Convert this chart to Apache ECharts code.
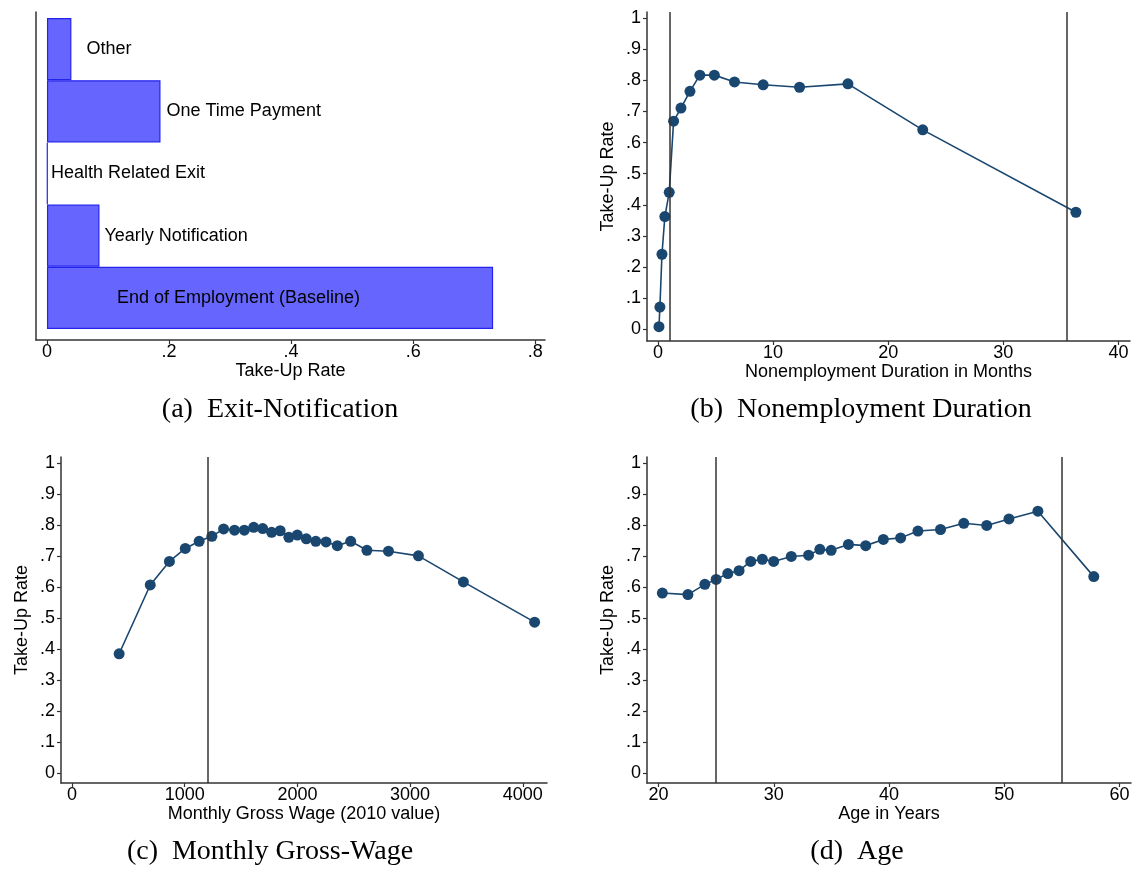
<!DOCTYPE html>
<html>
<head>
<meta charset="utf-8">
<script src="https://cdn.jsdelivr.net/npm/echarts@6/dist/echarts.min.js"></script>
<style>
  html, body { margin: 0; padding: 0; background: #fff; }
  #chart { width: 1133px; height: 869px; }
</style>
</head>
<body>
<div id="chart"></div>
<script>
// --- dados ---
var exitCategories = ['End of Employment (Baseline)', 'Yearly Notification', 'Health Related Exit', 'One Time Payment', 'Other'];
var exitRates = [0.731, 0.086, 0.001, 0.186, 0.040];

var durationMonths = [0.09, 0.17, 0.35, 0.6, 0.98, 1.36, 2.0, 2.78, 3.64, 4.9, 6.65, 9.14, 12.3, 16.5, 23.0, 36.3];
var durationRates = [0.008, 0.071, 0.241, 0.362, 0.44, 0.669, 0.711, 0.765, 0.817, 0.817, 0.795, 0.786, 0.778, 0.789, 0.641, 0.376];
var durationCutoffs = [1, 35.5];

var wageValues = [418, 694, 864, 1005, 1128, 1241, 1345, 1442, 1529, 1612, 1692, 1771, 1847, 1924, 1999, 2079, 2163, 2254, 2354, 2473, 2617, 2808, 3074, 3473, 4105];
var wageRates = [0.385, 0.607, 0.683, 0.725, 0.748, 0.764, 0.788, 0.784, 0.784, 0.793, 0.789, 0.777, 0.782, 0.761, 0.768, 0.756, 0.748, 0.746, 0.734, 0.748, 0.719, 0.716, 0.701, 0.617, 0.487];
var wageCutoffs = [1200];

var ageYears = [20.33, 22.55, 24.02, 25.0, 26.01, 26.99, 28.0, 29.01, 29.99, 31.52, 33.02, 34.0, 34.98, 36.48, 37.98, 39.51, 41.01, 42.51, 44.47, 46.49, 48.48, 50.41, 52.92, 57.77];
var ageRates = [0.581, 0.576, 0.609, 0.625, 0.644, 0.653, 0.683, 0.690, 0.683, 0.699, 0.703, 0.722, 0.719, 0.738, 0.734, 0.754, 0.759, 0.781, 0.786, 0.806, 0.799, 0.820, 0.845, 0.634];
var ageCutoffs = [25, 55];

// --- ticks ---
var rateTicks = [0, 0.1, 0.2, 0.3, 0.4, 0.5, 0.6, 0.7, 0.8, 0.9, 1];
var rateTickLabels = ['0', '.1', '.2', '.3', '.4', '.5', '.6', '.7', '.8', '.9', '1'];
var exitTicks = [0, 0.2, 0.4, 0.6, 0.8];
var exitTickLabels = ['0', '.2', '.4', '.6', '.8'];
var durationTicks = [0, 10, 20, 30, 40];
var wageTicks = [0, 1000, 2000, 3000, 4000];
var ageTicks = [20, 30, 40, 50, 60];

var captions = ['(a)  Exit-Notification', '(b)  Nonemployment Duration', '(c)  Monthly Gross-Wage', '(d)  Age'];

// --- estilo ---
var FONT = '"Liberation Sans", Arial, sans-serif';
var FS = 18;
var AXIS_COLOR = '#333';
var NAVY = '#1a476f';

function tickFormatter(ticks, labels) {
    return function (v) {
        for (var i = 0; i < ticks.length; i++) {
            if (Math.abs(ticks[i] - v) < 1e-9) return labels ? labels[i] : String(ticks[i]);
        }
        return '';
    };
}

function eixoX(grid, min, max, ticks, labels, name) {
    return {
        type: 'value', gridIndex: grid, min: min, max: max,
        axisLine: { show: true, onZero: false, lineStyle: { color: AXIS_COLOR, width: 1.5 } },
        axisTick: { show: true, customValues: ticks, length: 4, lineStyle: { color: AXIS_COLOR, width: 1.2 } },
        axisLabel: { customValues: ticks, formatter: tickFormatter(ticks, labels), margin: 3,
                     fontFamily: FONT, fontSize: FS, color: '#000' },
        splitLine: { show: false },
        name: name, nameLocation: 'middle', nameGap: 21,
        nameTextStyle: { fontFamily: FONT, fontSize: FS, color: '#000' }
    };
}

function eixoY(grid, min, max, name) {
    return {
        type: 'value', gridIndex: grid, min: min, max: max,
        axisLine: { show: true, onZero: false, lineStyle: { color: AXIS_COLOR, width: 1.5 } },
        axisTick: { show: true, customValues: rateTicks, length: 4, lineStyle: { color: AXIS_COLOR, width: 1.2 } },
        axisLabel: { customValues: rateTicks, formatter: tickFormatter(rateTicks, rateTickLabels), margin: 6,
                     fontFamily: FONT, fontSize: FS, color: '#000' },
        splitLine: { show: false },
        name: name, nameLocation: 'middle', nameGap: 30,
        nameTextStyle: { fontFamily: FONT, fontSize: FS, color: '#000' }
    };
}

function serieLinha(idx, xs, ys, cutoffs) {
    return {
        type: 'line', xAxisIndex: idx, yAxisIndex: idx,
        data: xs.map(function (x, i) { return [x, ys[i]]; }),
        symbol: 'circle', symbolSize: 11,
        itemStyle: { color: NAVY },
        lineStyle: { color: NAVY, width: 1.6 },
        z: 3,
        markLine: {
            silent: true, symbol: ['none', 'none'], label: { show: false },
            lineStyle: { color: '#333', width: 1.5, type: 'solid' },
            emphasis: { disabled: true },
            data: cutoffs.map(function (v) { return { xAxis: v }; })
        }
    };
}

// posição dos rótulos das barras (ordem de exitCategories)
var exitLabelPos = [
    { position: 'insideLeft', distance: 70 },
    { position: 'right', distance: 5 },
    { position: 'right', distance: 3 },
    { position: 'right', distance: 6 },
    { position: 'right', distance: 15 }
];

var grade = { containLabel: false, outerBoundsMode: 'none' };
function g(left, top, width, height) {
    return Object.assign({ left: left, top: top, width: width, height: height }, grade);
}

var chart = echarts.init(document.getElementById('chart'));

var option = {
    animation: false,
    backgroundColor: '#fff',
    grid: [
        g(36, 12, 509, 328),   // 0: eixos do painel (a)
        g(36, 18, 509, 311),   // 1: barras do painel (a)
        g(647, 12, 483, 329),  // 2: painel (b)
        g(61, 457, 486, 326),  // 3: painel (c)
        g(647, 457, 484, 326)  // 4: painel (d)
    ],
    xAxis: [
        eixoX(0, -0.018, 0.816, exitTicks, exitTickLabels, 'Take-Up Rate'),
        { type: 'value', gridIndex: 1, min: -0.018, max: 0.816, show: false },
        eixoX(2, -0.95, 41, durationTicks, null, 'Nonemployment Duration in Months'),
        eixoX(3, -98, 4215, wageTicks, null, 'Monthly Gross Wage (2010 value)'),
        eixoX(4, 19, 61, ageTicks, null, 'Age in Years')
    ],
    yAxis: [
        { type: 'value', gridIndex: 0, min: 0, max: 1,
          axisLine: { show: true, onZero: false, lineStyle: { color: AXIS_COLOR, width: 1.5 } },
          axisTick: { show: false }, axisLabel: { show: false }, splitLine: { show: false } },
        { type: 'category', gridIndex: 1, data: exitCategories, show: false },
        eixoY(2, -0.038, 1.02, 'Take-Up Rate'),
        eixoY(3, -0.032, 1.02, 'Take-Up Rate'),
        eixoY(4, -0.032, 1.02, 'Take-Up Rate')
    ],
    series: [
        { type: 'scatter', xAxisIndex: 0, yAxisIndex: 0, data: [] },
        {
            type: 'bar', xAxisIndex: 1, yAxisIndex: 1,
            barCategoryGap: '0%',
            itemStyle: { color: '#6666ff', borderColor: '#2323ee', borderWidth: 1.2 },
            label: { show: true, formatter: '{b}', fontFamily: FONT, fontSize: FS, color: '#000' },
            data: exitRates.map(function (v, i) {
                return { value: v, label: exitLabelPos[i] };
            })
        },
        serieLinha(2, durationMonths, durationRates, durationCutoffs),
        serieLinha(3, wageValues, wageRates, wageCutoffs),
        serieLinha(4, ageYears, ageRates, ageCutoffs)
    ],
    graphic: [
        [280, 410], [861, 410], [270, 852], [857, 852]
    ].map(function (p, i) {
        return {
            type: 'text', x: p[0], y: p[1], silent: true,
            style: { text: captions[i], fontFamily: '"Liberation Serif", serif', fontSize: 28,
                     fill: '#000', align: 'center', verticalAlign: 'middle' }
        };
    })
};

chart.setOption(option);
</script>
</body>
</html>
